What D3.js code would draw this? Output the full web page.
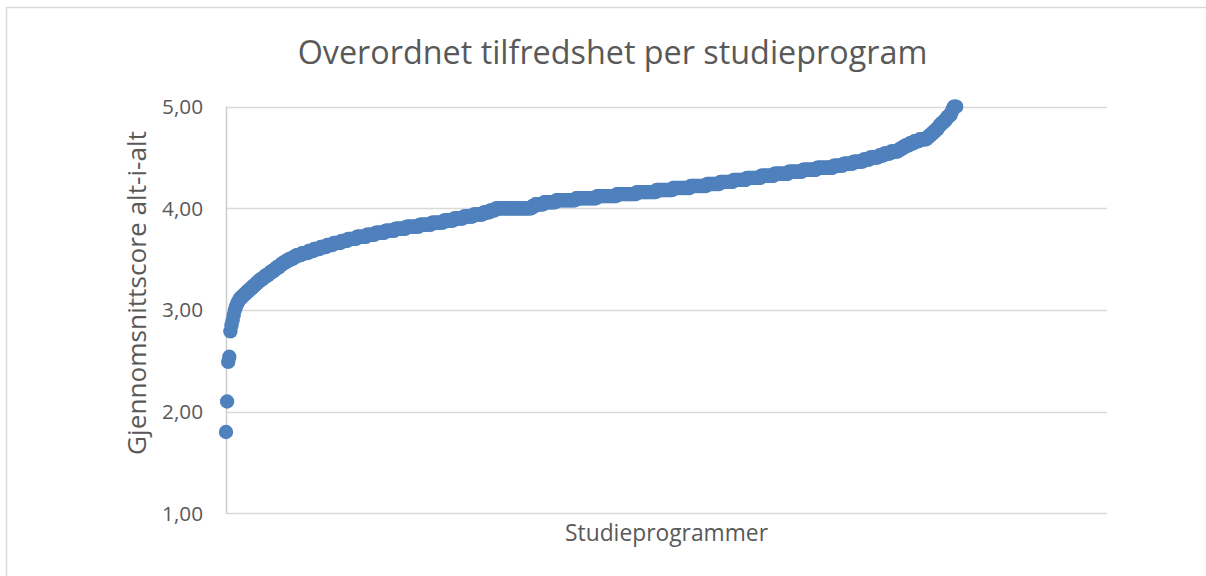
<!DOCTYPE html>
<html>
<head>
<meta charset="utf-8">
<script src="https://cdn.jsdelivr.net/npm/d3@7"></script>
<style>
  html, body { margin: 0; padding: 0; background: #fff; }
  svg { display: block; }
  text { font-family: "Open Sans", "Noto Sans", sans-serif; fill: #595959; }
</style>
</head>
<body>
<svg id="chart"></svg>
<script>
// Dimensions de la page
const width = 1206,
  height = 576;

// Scores (gjennomsnitt) et nombre de programmes ayant ce score, triés
const scores = [
  1.80, 2.10, 2.49, 2.54, 2.79, 2.85, 2.90, 2.95, 3.00, 3.03, 3.06, 3.08, 3.10,
  3.12, 3.14, 3.16, 3.18, 3.20, 3.22, 3.24, 3.26, 3.28, 3.30, 3.32, 3.34, 3.36,
  3.38, 3.40, 3.42, 3.44, 3.46, 3.48, 3.50, 3.52, 3.54, 3.56, 3.58, 3.60, 3.62,
  3.64, 3.66, 3.68, 3.70, 3.72, 3.74, 3.76, 3.78, 3.80, 3.82, 3.84, 3.86, 3.88,
  3.90, 3.92, 3.94, 3.96, 3.98, 4.00, 4.02, 4.04, 4.06, 4.08, 4.10, 4.12, 4.14,
  4.16, 4.18, 4.20, 4.22, 4.24, 4.26, 4.28, 4.30, 4.32, 4.34, 4.36, 4.38, 4.40,
  4.42, 4.44, 4.46, 4.48, 4.50, 4.52, 4.54, 4.56, 4.58, 4.60, 4.62, 4.64, 4.66,
  4.68, 4.70, 4.72, 4.74, 4.76, 4.78, 4.80, 4.82, 4.84, 4.86, 4.88, 4.90, 4.92,
  4.95, 4.98, 5.00
];
const counts = [
  1, 1, 1, 1, 1, 1, 1, 1, 1, 1, 1, 1, 1,
  2, 2, 2, 2, 2, 2, 2, 2, 2, 3, 2, 3, 2,
  3, 2, 3, 2, 3, 3, 4, 3, 5, 6, 5, 6, 6,
  6, 7, 6, 8, 9, 8, 9, 9, 10, 12, 11, 11, 9,
  9, 9, 9, 6, 5, 33, 3, 8, 11, 18, 19, 18, 18,
  18, 15, 16, 15, 12, 12, 12, 13, 12, 13, 13, 13, 15,
  9, 9, 9, 6, 8, 5, 6, 7, 3, 3, 4, 4, 5,
  7, 2, 2, 2, 2, 2, 1, 2, 2, 2, 1, 2, 2,
  1, 1, 3
];

// Graduations de l'axe Y
const yTicks = [1, 2, 3, 4, 5];
const xMax = 800;

// Un point par studieprogram (rang, score)
const points = [];
scores.forEach((s, i) => {
  for (let k = 0; k < counts[i]; k++) points.push({ rank: points.length, score: s });
});

const svg = d3.select("#chart").attr("width", width).attr("height", height);

// Cadre du graphique (coupé à droite et en bas)
svg
  .append("rect")
  .attr("x", 6.5)
  .attr("y", 7.5)
  .attr("width", width + 20)
  .attr("height", height + 20)
  .attr("fill", "#fff")
  .attr("stroke", "#d9d9d9")
  .attr("stroke-width", 1.5);

const plot = { left: 226, right: 1107, top: 106.7, bottom: 513.3 };

const x = d3.scaleLinear().domain([0, xMax]).range([plot.left, plot.right]);
const y = d3.scaleLinear().domain([1, 5]).range([plot.bottom, plot.top]);

// Quadrillage horizontal
svg
  .append("g")
  .selectAll("line")
  .data(yTicks)
  .join("line")
  .attr("x1", plot.left)
  .attr("x2", plot.right)
  .attr("y1", d => Math.round(y(d)) + 0.5)
  .attr("y2", d => Math.round(y(d)) + 0.5)
  .attr("stroke", "#d9d9d9")
  .attr("stroke-width", 1.5);

// Axe vertical
svg
  .append("line")
  .attr("x1", plot.left + 0.5)
  .attr("x2", plot.left + 0.5)
  .attr("y1", plot.top)
  .attr("y2", plot.bottom)
  .attr("stroke", "#cccccc")
  .attr("stroke-width", 1.5);

// Etiquettes de l'axe Y
const fmt = d => d.toFixed(2).replace(".", ",");
const tickLabels = svg
  .append("g")
  .selectAll("text")
  .data(yTicks)
  .join("text")
  .attr("x", 203)
  .attr("y", d => y(d))
  .attr("dy", "0.35em")
  .attr("text-anchor", "end")
  .attr("font-size", 21)
  .text(fmt);

// Points
svg
  .append("g")
  .selectAll("circle")
  .data(points)
  .join("circle")
  .attr("cx", d => x(d.rank))
  .attr("cy", d => y(d.score))
  .attr("r", 7.2)
  .attr("fill", "#4f81bd");

// Titres
const title = svg
  .append("text")
  .attr("x", 612.5)
  .attr("y", 64)
  .attr("text-anchor", "middle")
  .attr("font-size", 34)
  .text("Overordnet tilfredshet per studieprogram");

const xTitle = svg
  .append("text")
  .attr("x", 666.5)
  .attr("y", 541)
  .attr("text-anchor", "middle")
  .attr("font-size", 24)
  .text("Studieprogrammer");

const yTitle = svg
  .append("text")
  .attr("transform", "translate(146,293) rotate(-90)")
  .attr("text-anchor", "middle")
  .attr("font-size", 24)
  .text("Gjennomsnittscore alt-i-alt");

// Ajuster la taille de police pour retrouver la largeur d'origine (Calibri)
function fitWidth(sel, target) {
  sel.each(function() {
    const t = d3.select(this);
    const len = this.getComputedTextLength();
    const fs = parseFloat(t.attr("font-size"));
    t.attr("font-size", (fs * target / len).toFixed(2));
  });
}
fitWidth(title, 630);
fitWidth(xTitle, 203);
fitWidth(yTitle, 324);
fitWidth(tickLabels, 41);
</script>
</body>
</html>
